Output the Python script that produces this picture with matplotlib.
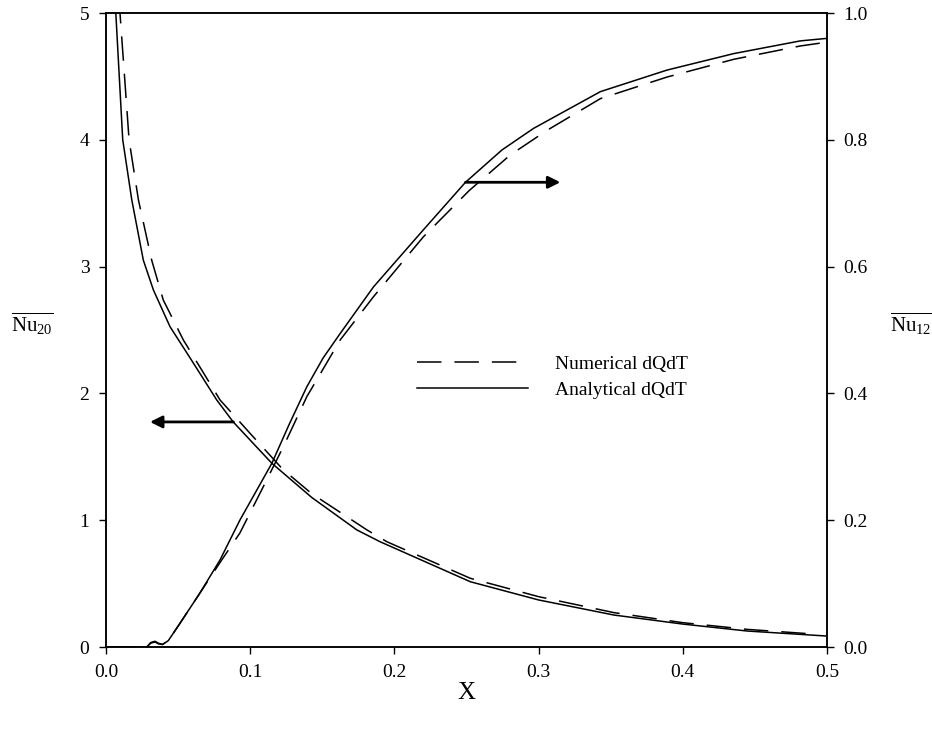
import matplotlib
matplotlib.use("Agg")
import matplotlib.pyplot as plt
from matplotlib.ticker import FormatStrFormatter

plt.rcParams['font.family'] = ['Liberation Serif', 'DejaVu Serif']
plt.rcParams['mathtext.fontset'] = 'custom'
plt.rcParams['mathtext.rm'] = 'Liberation Serif'
plt.rcParams['mathtext.it'] = 'Liberation Serif:italic'

# Nu20 (left axis), analytical (solid) and numerical (dashed)
x_nu20_ana = [0.0055, 0.0068, 0.0116, 0.0179, 0.0259, 0.0329, 0.0444, 0.0583, 0.0768,
              0.0882, 0.1150, 0.1426, 0.1740, 0.1901, 0.2526, 0.3000, 0.3523, 0.3999, 0.4447, 0.4990]
y_nu20_ana = [5.6, 5.0, 4.0, 3.525, 3.05, 2.815, 2.526, 2.28, 1.948,
              1.775, 1.449, 1.18, 0.923, 0.830, 0.515, 0.371, 0.252, 0.181, 0.126, 0.087]

x_nu20_num = [0.0084, 0.0097, 0.0160, 0.0225, 0.0317, 0.0397, 0.0537, 0.0791, 0.0999,
              0.1227, 0.1426, 0.1810, 0.1948, 0.2526, 0.3000, 0.3523, 0.3999, 0.4447, 0.4934]
y_nu20_num = [5.6, 5.0, 4.0, 3.525, 3.05, 2.737, 2.42, 1.948, 1.685,
              1.40, 1.21, 0.923, 0.83, 0.542, 0.397, 0.271, 0.192, 0.139, 0.100]

# Nu12 (right axis)
x_nu12_ana = [0.0, 0.0283, 0.0310, 0.0340, 0.0363, 0.0392, 0.0432, 0.0512, 0.0651, 0.0790, 0.0929,
              0.1150, 0.1272, 0.1393, 0.1506, 0.1625, 0.1855, 0.2201, 0.2493, 0.2746, 0.2965,
              0.3429, 0.3891, 0.4354, 0.4815, 0.5]
y_nu12_ana = [0.0, 0.0, 0.007, 0.009, 0.006, 0.004, 0.010, 0.037, 0.085, 0.137, 0.2003,
              0.2897, 0.352, 0.4106, 0.456, 0.4948, 0.568, 0.658, 0.733, 0.784, 0.818,
              0.876, 0.910, 0.936, 0.956, 0.960]

x_nu12_num = [0.0, 0.0283, 0.0310, 0.0340, 0.0363, 0.0392, 0.0432, 0.0512, 0.0651, 0.0790, 0.0929,
              0.1080, 0.1230, 0.1393, 0.1625, 0.1855, 0.2201, 0.2519, 0.2803, 0.3059,
              0.3429, 0.3891, 0.4354, 0.4815, 0.5]
y_nu12_num = [0.0, 0.0, 0.006, 0.008, 0.005, 0.004, 0.010, 0.037, 0.085, 0.133, 0.180,
              0.248, 0.316, 0.395, 0.4846, 0.5525, 0.647, 0.720, 0.776, 0.815,
              0.865, 0.899, 0.927, 0.948, 0.954]

x_ticks = [0.0, 0.1, 0.2, 0.3, 0.4, 0.5]
y_left_ticks = [0, 1, 2, 3, 4, 5]
y_right_ticks = [0.0, 0.2, 0.4, 0.6, 0.8, 1.0]

fig = plt.figure(figsize=(9.32, 7.31), dpi=100)
ax = fig.add_axes([106/932, 1-647/731, 721/932, 634/731])
ax2 = ax.twinx()

dash = (0, (16, 8.5))
lw = 1.1
ln_num, = ax.plot(x_nu20_num, y_nu20_num, color='black', lw=lw, linestyle=dash, label='Numerical dQdT')
ln_ana, = ax.plot(x_nu20_ana, y_nu20_ana, color='black', lw=lw, label='Analytical dQdT')
ax2.plot(x_nu12_num, y_nu12_num, color='black', lw=lw, linestyle=dash)
ax2.plot(x_nu12_ana, y_nu12_ana, color='black', lw=lw)

ax.set_xlim(0, 0.5)
ax.set_ylim(0, 5)
ax2.set_ylim(0, 1)
ax.set_xticks(x_ticks)
ax.set_yticks(y_left_ticks)
ax2.set_yticks(y_right_ticks)
ax.xaxis.set_major_formatter(FormatStrFormatter('%.1f'))
ax2.yaxis.set_major_formatter(FormatStrFormatter('%.1f'))

for a in (ax, ax2):
    a.tick_params(direction='out', length=5, width=1, labelsize=14, pad=7)
    for s in a.spines.values():
        s.set_linewidth(1.1)
ax.tick_params(top=False)

ax.set_xlabel('X', fontsize=18)
ax.xaxis.set_label_coords(0.5, (647-693)/634)
ax.xaxis.label.set_verticalalignment('center')
ax.set_ylabel(r'$\overline{\mathrm{Nu}_{20}}$', fontsize=15, rotation=0, va='center', ha='center')
ax.yaxis.set_label_coords(-0.102, 0.51)
ax2.set_ylabel(r'$\overline{\mathrm{Nu}_{12}}$', fontsize=15, rotation=0, va='center', ha='center')
ax2.yaxis.set_label_coords(1.117, 0.51)

leg = ax.legend(handles=[ln_num, ln_ana], loc='upper left',
                bbox_to_anchor=((417-106)/721, (647-355)/634), frameon=False,
                fontsize=14, handlelength=5.7, handletextpad=1.4, labelspacing=0.45,
                borderpad=0, borderaxespad=0)

# arrows pointing to the axis each curve uses
ax.annotate('', xy=(0.0305, 1.775), xytext=(0.0884, 1.775),
            arrowprops=dict(arrowstyle='-|>', color='black', lw=2, mutation_scale=18, shrinkA=0, shrinkB=0))
ax2.annotate('', xy=(0.3151, 0.733), xytext=(0.2493, 0.733),
             arrowprops=dict(arrowstyle='-|>', color='black', lw=2, mutation_scale=18, shrinkA=0, shrinkB=0))

fig.savefig('out.png', dpi=100)
